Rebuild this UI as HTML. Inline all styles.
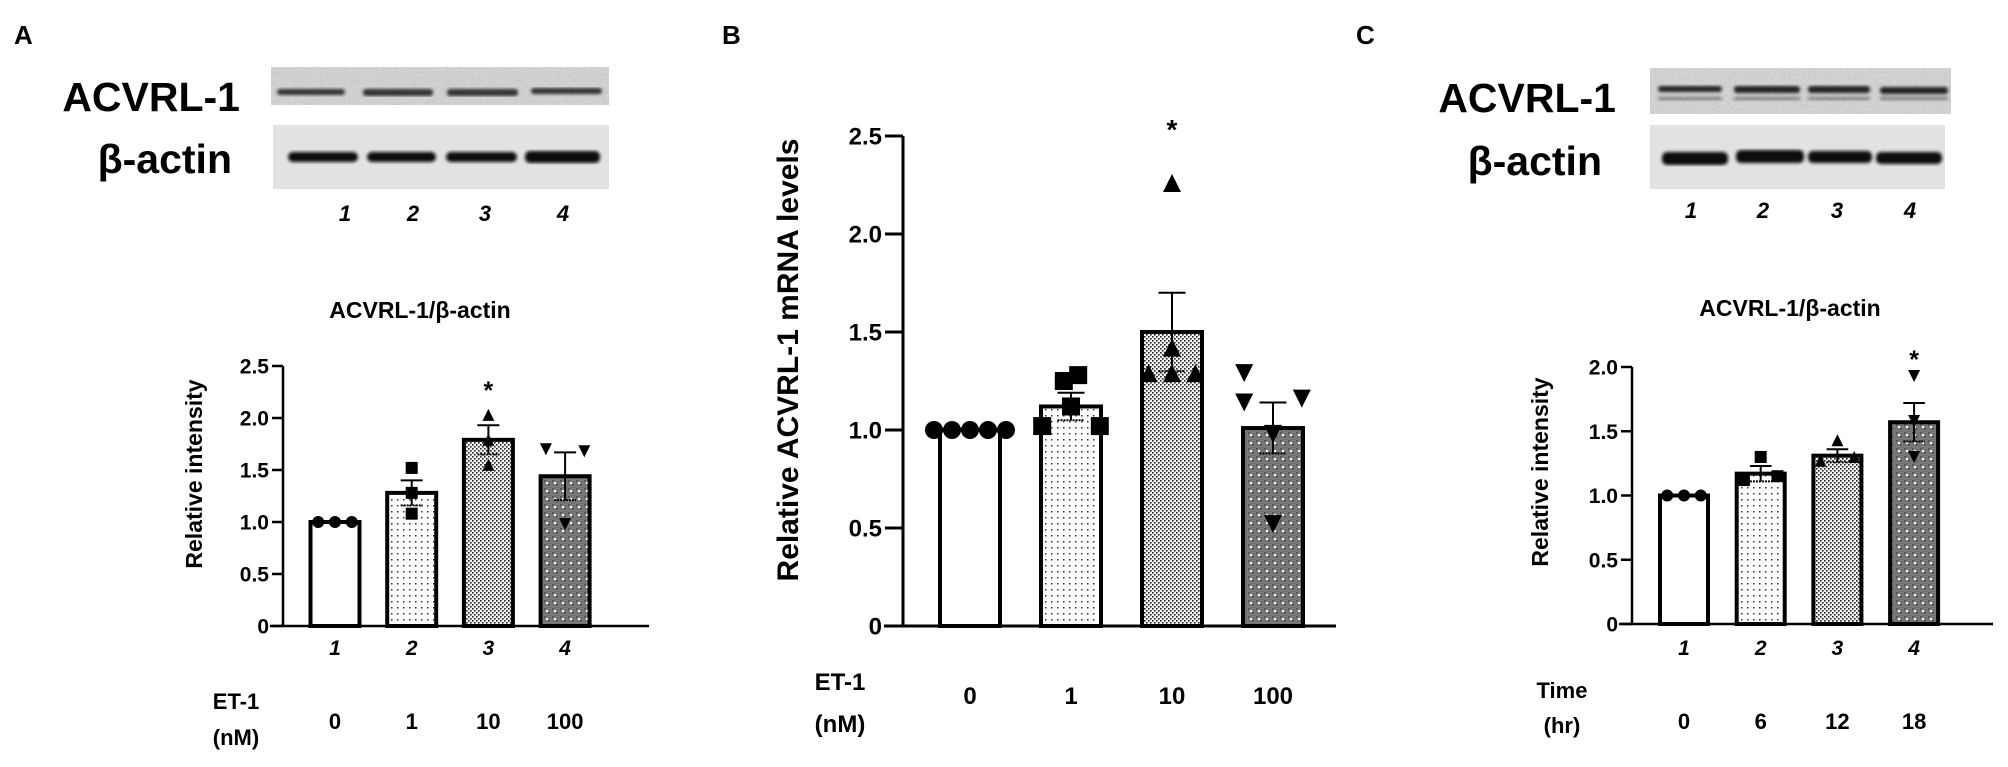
<!DOCTYPE html>
<html><head><meta charset="utf-8">
<style>
html,body{margin:0;padding:0;background:#fff;}
svg{display:block;font-family:"Liberation Sans",Arial,sans-serif;}
text{font-weight:bold;fill:#000;}
</style></head>
<body>
<svg id="fig" width="2008" height="767" viewBox="0 0 2008 767">
<defs>
  <pattern id="p2" width="6" height="6" patternUnits="userSpaceOnUse"><rect width="6" height="6" fill="#fff"/><rect x="1" y="1" width="1.5" height="1.5" fill="#333"/></pattern>
  <pattern id="p3" width="4" height="4" patternUnits="userSpaceOnUse"><rect width="4" height="4" fill="#f4f4f4"/><rect x="0" y="0" width="1.6" height="1.6" fill="#222"/><rect x="2" y="2" width="1.6" height="1.6" fill="#222"/></pattern>
  <pattern id="p4" width="8" height="8" patternUnits="userSpaceOnUse"><rect width="8" height="8" fill="#777"/><rect x="0" y="0" width="1.5" height="1.5" fill="#444"/><rect x="4" y="4" width="1.5" height="1.5" fill="#444"/><rect x="2" y="2" width="2" height="2" fill="#fff"/></pattern>
  <filter id="blur"><feGaussianBlur stdDeviation="1.6"/></filter>
  <filter id="noise" x="0" y="0" width="1" height="1"><feTurbulence type="fractalNoise" baseFrequency="0.35" numOctaves="2" seed="3"/><feColorMatrix values="0 0 0 0 0.35  0 0 0 0 0.35  0 0 0 0 0.35  0 0 0 0.55 0"/></filter>
</defs>

<!-- Panel letters -->
<text x="14" y="44" font-size="26">A</text>
<text x="722" y="44" font-size="26">B</text>
<text x="1356" y="44" font-size="26">C</text>

<!-- Blot A -->
<g>
  <text x="240" y="111" font-size="41" text-anchor="end" style="font-weight:600">ACVRL-1</text>
  <text x="232" y="173" font-size="41" text-anchor="end" style="font-weight:600">β-actin</text>
  <rect x="271" y="67" width="338" height="38" fill="#d9d9d9"/>
  <rect x="271" y="67" width="338" height="38" filter="url(#noise)" opacity="0.6"/>
  <g filter="url(#blur)" fill="#333">
    <rect x="277" y="89" width="68" height="6" rx="3"/><rect x="363" y="89" width="70" height="7" rx="3"/><rect x="447" y="89" width="71" height="7" rx="3"/><rect x="531" y="88" width="71" height="6" rx="3"/>
  </g>
  <rect x="273" y="125" width="336" height="64" fill="#e2e2e2"/>
  <g filter="url(#blur)" fill="#111">
    <rect x="288" y="152" width="70" height="10" rx="5"/><rect x="367" y="152" width="69" height="10" rx="5"/><rect x="446" y="152" width="71" height="10" rx="5"/><rect x="525" y="151" width="75" height="12" rx="5"/>
  </g>
  <g font-size="22" font-style="italic" text-anchor="middle">
    <text x="345" y="221">1</text><text x="413" y="221">2</text><text x="485" y="221">3</text><text x="563" y="221">4</text>
  </g>
</g>

<!-- Blot C -->
<g>
  <text x="1616" y="112" font-size="41" text-anchor="end" style="font-weight:600">ACVRL-1</text>
  <text x="1602" y="175" font-size="41" text-anchor="end" style="font-weight:600">β-actin</text>
  <rect x="1650" y="68" width="301" height="46" fill="#dadada"/>
  <rect x="1650" y="68" width="301" height="46" filter="url(#noise)" opacity="0.6"/>
  <g filter="url(#blur)" fill="#222">
    <rect x="1658" y="86" width="64" height="6" rx="3"/><rect x="1734" y="86" width="66" height="7" rx="3"/><rect x="1808" y="86" width="62" height="7" rx="3"/><rect x="1880" y="87" width="68" height="7" rx="3"/>
    <rect x="1658" y="97" width="64" height="3" rx="1" opacity="0.5"/><rect x="1734" y="97" width="66" height="3" opacity="0.5"/><rect x="1808" y="97" width="62" height="3" opacity="0.5"/><rect x="1880" y="97" width="68" height="3" opacity="0.5"/>
  </g>
  <rect x="1650" y="125" width="295" height="64" fill="#e2e2e2"/>
  <g filter="url(#blur)" fill="#111">
    <rect x="1662" y="152" width="66" height="13" rx="5"/><rect x="1736" y="150" width="68" height="13" rx="5"/><rect x="1808" y="151" width="64" height="12" rx="5"/><rect x="1876" y="152" width="66" height="12" rx="5"/>
  </g>
  <g font-size="22" font-style="italic" text-anchor="middle">
    <text x="1691" y="218">1</text><text x="1763" y="218">2</text><text x="1837" y="218">3</text><text x="1910" y="218">4</text>
  </g>
</g>

<text x="420" y="318" font-size="23" text-anchor="middle">ACVRL-1/β-actin</text>
<text x="1790" y="316" font-size="23" text-anchor="middle">ACVRL-1/β-actin</text>

<g id="charts"></g>
</svg>

<script>
// ---- Panel A data ----
const catsA = ["0", "1", "10", "100"];
const laneA = ["1", "2", "3", "4"];
const meansA = [1.0, 1.28, 1.79, 1.44];
const semA = [0.0, 0.12, 0.14, 0.23];
const ptsA = [[1.0, 1.0, 1.0], [1.52, 1.28, 1.08], [2.03, 1.79, 1.55], [1.70, 1.68, 0.98]];
const ticksA = [0, 0.5, 1.0, 1.5, 2.0, 2.5];
const tickLabA = ["0", "0.5", "1.0", "1.5", "2.0", "2.5"];
const sigA = [false, false, true, false];

// ---- Panel B data ----
const catsB = ["0", "1", "10", "100"];
const meansB = [1.0, 1.12, 1.50, 1.01];
const semB = [0.0, 0.07, 0.20, 0.13];
const ptsB = [[1.0, 1.0, 1.0, 1.0, 1.0], [1.28, 1.25, 1.12, 1.02, 1.02], [2.26, 1.42, 1.29, 1.29, 1.29], [1.29, 1.14, 1.16, 0.98, 0.52]];
const ticksB = [0, 0.5, 1.0, 1.5, 2.0, 2.5];
const tickLabB = ["0", "0.5", "1.0", "1.5", "2.0", "2.5"];
const sigB = [false, false, true, false];

// ---- Panel C data ----
const catsC = ["0", "6", "12", "18"];
const laneC = ["1", "2", "3", "4"];
const meansC = [1.0, 1.17, 1.31, 1.57];
const semC = [0.0, 0.06, 0.05, 0.15];
const ptsC = [[1.0, 1.0, 1.0], [1.30, 1.12, 1.15], [1.43, 1.27, 1.30], [1.93, 1.58, 1.30]];
const ticksC = [0, 0.5, 1.0, 1.5, 2.0];
const tickLabC = ["0", "0.5", "1.0", "1.5", "2.0"];
const sigC = [false, false, false, true];

const NS = "http://www.w3.org/2000/svg";
const root = document.getElementById("charts");
function mk(tag, attrs, parent) {
  const e = document.createElementNS(NS, tag);
  for (const k in attrs) e.setAttribute(k, attrs[k]);
  (parent || root).appendChild(e);
  return e;
}
const fills = ["#fff", "url(#p2)", "url(#p3)", "url(#p4)"];
const markers = ["circle", "square", "up", "down"];

function marker(g, type, cx, cy, s) {
  let m;
  if (type === "circle") m = mk("circle", {cx: cx, cy: cy, r: s / 2, fill: "#000"}, g);
  else if (type === "square") m = mk("rect", {x: cx - s / 2, y: cy - s / 2, width: s, height: s, fill: "#000"}, g);
  else if (type === "up") m = mk("polygon", {points: `${cx},${cy - s / 2} ${cx - s / 2},${cy + s / 2} ${cx + s / 2},${cy + s / 2}`, fill: "#000"}, g);
  else m = mk("polygon", {points: `${cx},${cy + s / 2} ${cx - s / 2},${cy - s / 2} ${cx + s / 2},${cy - s / 2}`, fill: "#000"}, g);
  
  
}

function chart(o) {
  const g = mk("g", {});
  
  
  const ymax = o.ticks[o.ticks.length - 1];
  const y = v => o.y0 - (v / ymax) * (o.y0 - o.yTop);
  const x = i => o.x0 + i * o.step;
  const ya = mk("line", {x1: o.ax, y1: o.yTop, x2: o.ax, y2: o.y0, stroke: "#000", "stroke-width": o.lw}, g);
  
  
  o.ticks.forEach((t, i) => {
    mk("line", {x1: o.ax - o.tl, y1: y(t), x2: o.ax, y2: y(t), stroke: "#000", "stroke-width": o.lw}, g);
    const tx = mk("text", {x: o.ax - o.tl - 3, y: y(t) + o.fs * 0.36, "font-size": o.fs, "text-anchor": "end"}, g);
    tx.textContent = o.tickLab[i];
    
    
  });
  const xa = mk("line", {x1: o.xa1, y1: o.y0, x2: o.xa2, y2: o.y0, stroke: "#000", "stroke-width": o.lw}, g);
  
  
  const yt = mk("text", {x: 0, y: 0, "font-size": o.ytFs, "text-anchor": "middle", transform: `translate(${o.ytX},${o.ytY}) rotate(-90)`}, g);
  yt.textContent = o.ytitle;
  
  
  o.means.forEach((v, i) => {
    const cx = x(i), w = o.bw;
    const b = mk("rect", {x: cx - w / 2, y: y(v), width: w, height: o.y0 - y(v), fill: fills[i], stroke: "#000", "stroke-width": o.bs}, g);
    
    
    if (o.sem[i] > 0) {
      const hi = y(v + o.sem[i]), lo = y(v - o.sem[i]), cw = w * 0.45;
      const e1 = mk("line", {x1: cx, y1: hi, x2: cx, y2: lo, stroke: "#000", "stroke-width": 2}, g);
      
      
      mk("line", {x1: cx - cw / 2, y1: hi, x2: cx + cw / 2, y2: hi, stroke: "#000", "stroke-width": 2}, g);
      mk("line", {x1: cx - cw / 2, y1: lo, x2: cx + cw / 2, y2: lo, stroke: "#000", "stroke-width": 2, "stroke-dasharray": "2,1"}, g);
    }
    const pts = o.pts[i];
    pts.forEach((p, j) => {
      marker(g, markers[i], cx + o.jit[i][j] * o.ms, y(p), o.ms);
    });
    if (o.sig[i]) {
      const s = mk("text", {x: cx, y: y(Math.max(v + o.sem[i], ...pts)) - o.sigOff, "font-size": o.fs + 4, "text-anchor": "middle"}, g);
      s.textContent = "*";
      
      
    }
    if (o.lanes) {
      const l = mk("text", {x: cx, y: o.laneY, "font-size": o.fs, "font-style": "italic", "text-anchor": "middle"}, g);
      l.textContent = o.lanes[i];
      
      
    }
    const c = mk("text", {x: cx, y: o.catY, "font-size": o.catFs, "text-anchor": "middle"}, g);
    c.textContent = o.cats[i];
    
    
  });
  const c1 = mk("text", {x: o.condX, y: o.condY1, "font-size": o.catFs, "text-anchor": "middle"}, g);
  c1.textContent = o.cond[0];
  
  
  const c2 = mk("text", {x: o.condX, y: o.condY2, "font-size": o.catFs, "text-anchor": "middle"}, g);
  c2.textContent = o.cond[1];
  
  
}

chart({name: "chart-a", ax: 283, y0: 626, yTop: 366, x0: 335, step: 76.7, bw: 49, lw: 2.5, bs: 4, tl: 11, fs: 21,
  ticks: ticksA, tickLab: tickLabA, xa1: 270, xa2: 649, ytitle: "Relative intensity", ytX: 202, ytY: 474, ytFs: 23,
  means: meansA, sem: semA, pts: ptsA, ms: 12, jit: [[-1.4, 0, 1.4], [0, 0, 0], [0, 0, 0], [-1.6, 1.6, 0]],
  sig: sigA, sigOff: 16, lanes: laneA, laneY: 655, cats: catsA, catY: 729, catFs: 22, cond: ["ET-1", "(nM)"], condX: 236, condY1: 709, condY2: 745});

chart({name: "chart-b", ax: 903, y0: 626, yTop: 136, x0: 970, step: 101, bw: 60, lw: 3, bs: 4, tl: 18, fs: 24,
  ticks: ticksB, tickLab: tickLabB, xa1: 884, xa2: 1336, ytitle: "Relative ACVRL-1 mRNA levels", ytX: 798, ytY: 360, ytFs: 30,
  means: meansB, sem: semB, pts: ptsB, ms: 18, jit: [[-2, -1, 0, 1, 2], [0.4, -0.4, 0, -1.6, 1.6], [0, 0, -1.3, 0, 1.3], [-1.6, -1.6, 1.6, 0, 0]],
  sig: sigB, sigOff: 44, lanes: null, cats: catsB, catY: 704, catFs: 24, cond: ["ET-1", "(nM)"], condX: 840, condY1: 690, condY2: 732});

chart({name: "chart-c", ax: 1632, y0: 624, yTop: 367, x0: 1684, step: 76.7, bw: 48, lw: 2.5, bs: 4, tl: 11, fs: 21,
  ticks: ticksC, tickLab: tickLabC, xa1: 1619, xa2: 1993, ytitle: "Relative intensity", ytX: 1548, ytY: 472, ytFs: 23,
  means: meansC, sem: semC, pts: ptsC, ms: 12, jit: [[-1.4, 0, 1.4], [0, -1.4, 1.4], [0, -1.4, 1.4], [0, 0, 0]],
  sig: sigC, sigOff: 8, lanes: laneC, laneY: 655, cats: catsC, catY: 729, catFs: 22, cond: ["Time", "(hr)"], condX: 1562, condY1: 698, condY2: 733});
</script>
</body></html>
